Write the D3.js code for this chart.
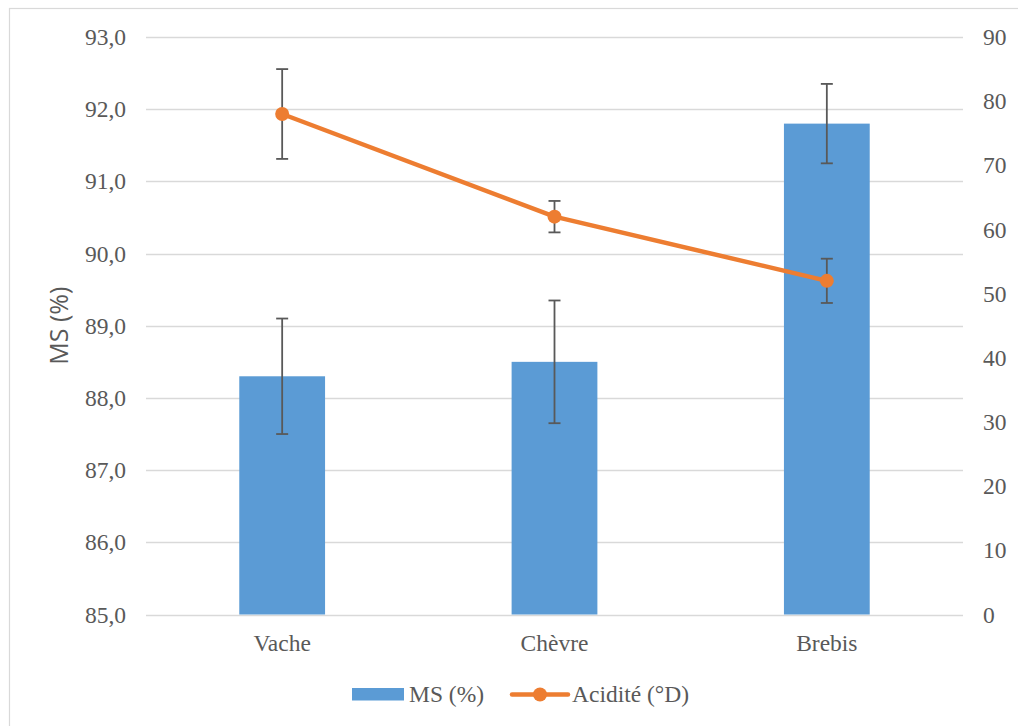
<!DOCTYPE html>
<html>
<head>
<meta charset="utf-8">
<script src="https://cdn.jsdelivr.net/npm/d3@7"></script>
<style>
  html, body { margin: 0; padding: 0; background: #fff; }
  svg { display: block; }
  .serif { font-family: "Liberation Serif", "Times New Roman", Tinos, "DejaVu Serif"; }
  .title { font-family: "Open Sans", "Liberation Sans", "DejaVu Sans"; font-weight: 400; }
</style>
</head>
<body>
<svg id="chart" width="1018" height="726"></svg>
<script>
// ---- data ----
const categories = ["Vache", "Chèvre", "Brebis"];
const msValues = [88.3, 88.5, 91.8];
const msErrors = [0.8, 0.85, 0.55];
const acidValues = [78, 62, 52];
const acidErrors = [7, 2.45, 3.45];
const leftTicks = [85, 86, 87, 88, 89, 90, 91, 92, 93];
const rightTicks = [0, 10, 20, 30, 40, 50, 60, 70, 80, 90];
const seriesNames = ["MS (%)", "Acidité (°D)"];
const leftTitle = "MS (%)";

// ---- layout ----
const svg = d3.select("#chart");
const W = 1018, H = 726;
const plot = { left: 146, right: 963, top: 37, bottom: 614.5 };
const fs = "23.5px";
const textColor = "#595959";
const barColor = "#5B9BD5";
const lineColor = "#ED7D31";
const errColor = "#595959";

svg.append("rect").attr("x", 0).attr("y", 0).attr("width", W).attr("height", H).attr("fill", "#fff");
svg.append("rect").attr("x", 9.5).attr("y", 8.5).attr("width", W + 20).attr("height", H + 20)
  .attr("fill", "none").attr("stroke", "#D9D9D9").attr("stroke-width", 1.2);

const x = d3.scaleBand().domain(categories).range([plot.left, plot.right]).paddingInner(0).paddingOuter(0);
const yL = d3.scaleLinear().domain([85, 93]).range([plot.bottom, plot.top]);
const yR = d3.scaleLinear().domain([0, 90]).range([plot.bottom, plot.top]);
const barW = x.bandwidth() * 0.315;
const cx = d => x(d) + x.bandwidth() / 2;

// gridlines
svg.append("g").selectAll("line").data(leftTicks).join("line")
  .attr("x1", plot.left).attr("x2", plot.right)
  .attr("y1", d => Math.round(yL(d)) + 0.5).attr("y2", d => Math.round(yL(d)) + 0.5)
  .attr("stroke", "#D9D9D9").attr("stroke-width", 1.3);

function styleAxis(g) {
  g.attr("font-family", null).attr("font-size", null);
  g.select(".domain").remove();
  g.selectAll("text").attr("class", "serif").style("font-size", fs).attr("fill", textColor);
}

// left axis
const axL = d3.axisLeft(yL).tickValues(leftTicks).tickSize(0).tickPadding(0)
  .tickFormat(d => d3.format(".1f")(d).replace(".", ","));
const gL = svg.append("g").attr("transform", `translate(${plot.left - 20},0)`).call(axL);
styleAxis(gL);

// right axis
const axR = d3.axisRight(yR).tickValues(rightTicks).tickSize(0).tickPadding(0).tickFormat(d3.format("d"));
const gR = svg.append("g").attr("transform", `translate(${plot.right + 20},0)`).call(axR);
styleAxis(gR);

// x axis labels
const axX = d3.axisBottom(x).tickSize(0).tickPadding(0);
const gX = svg.append("g").attr("transform", `translate(0,${plot.bottom + 20})`).call(axX);
styleAxis(gX);

// left title
svg.append("text").attr("class", "title")
  .attr("transform", `translate(68,${(plot.top + plot.bottom) / 2}) rotate(-90)`)
  .attr("text-anchor", "middle").style("font-size", "25px").attr("fill", textColor).text(leftTitle);

// bars
svg.append("g").selectAll("rect").data(categories).join("rect")
  .attr("x", d => cx(d) - barW / 2).attr("width", barW)
  .attr("y", (d, i) => yL(msValues[i])).attr("height", (d, i) => yL(85) - yL(msValues[i]))
  .attr("fill", barColor);

// error bars helper
function errBars(vals, errs, scale) {
  const g = svg.append("g").attr("stroke", errColor).attr("stroke-width", 1.8).attr("fill", "none");
  categories.forEach((c, i) => {
    const xc = cx(c), y1 = scale(vals[i] + errs[i]), y2 = scale(vals[i] - errs[i]);
    g.append("line").attr("x1", xc).attr("x2", xc).attr("y1", y1).attr("y2", y2);
    g.append("line").attr("x1", xc - 6).attr("x2", xc + 6).attr("y1", y1).attr("y2", y1);
    g.append("line").attr("x1", xc - 6).attr("x2", xc + 6).attr("y1", y2).attr("y2", y2);
  });
}
errBars(msValues, msErrors, yL);

// line
const line = d3.line().x(d => cx(d.c)).y(d => yR(d.v));
const pts = categories.map((c, i) => ({ c, v: acidValues[i] }));
svg.append("path").datum(pts).attr("d", line).attr("fill", "none")
  .attr("stroke", lineColor).attr("stroke-width", 4.5).attr("stroke-linejoin", "round").attr("stroke-linecap", "round");
errBars(acidValues, acidErrors, yR);
svg.append("g").selectAll("circle").data(pts).join("circle")
  .attr("cx", d => cx(d.c)).attr("cy", d => yR(d.v)).attr("r", 7).attr("fill", lineColor);

// legend
const lg = svg.append("g");
lg.append("rect").attr("x", 352).attr("y", 688).attr("width", 52).attr("height", 12.5).attr("fill", barColor);
lg.append("text").attr("class", "serif").attr("x", 409).attr("y", 702).style("font-size", fs)
  .attr("fill", textColor).text(seriesNames[0]);
lg.append("line").attr("x1", 512).attr("x2", 568).attr("y1", 694.5).attr("y2", 694.5)
  .attr("stroke", lineColor).attr("stroke-width", 4.5).attr("stroke-linecap", "round");
lg.append("circle").attr("cx", 540).attr("cy", 694.5).attr("r", 7).attr("fill", lineColor);
lg.append("text").attr("class", "serif").attr("x", 572).attr("y", 702).style("font-size", fs)
  .attr("fill", textColor).text(seriesNames[1]);
</script>
</body>
</html>
